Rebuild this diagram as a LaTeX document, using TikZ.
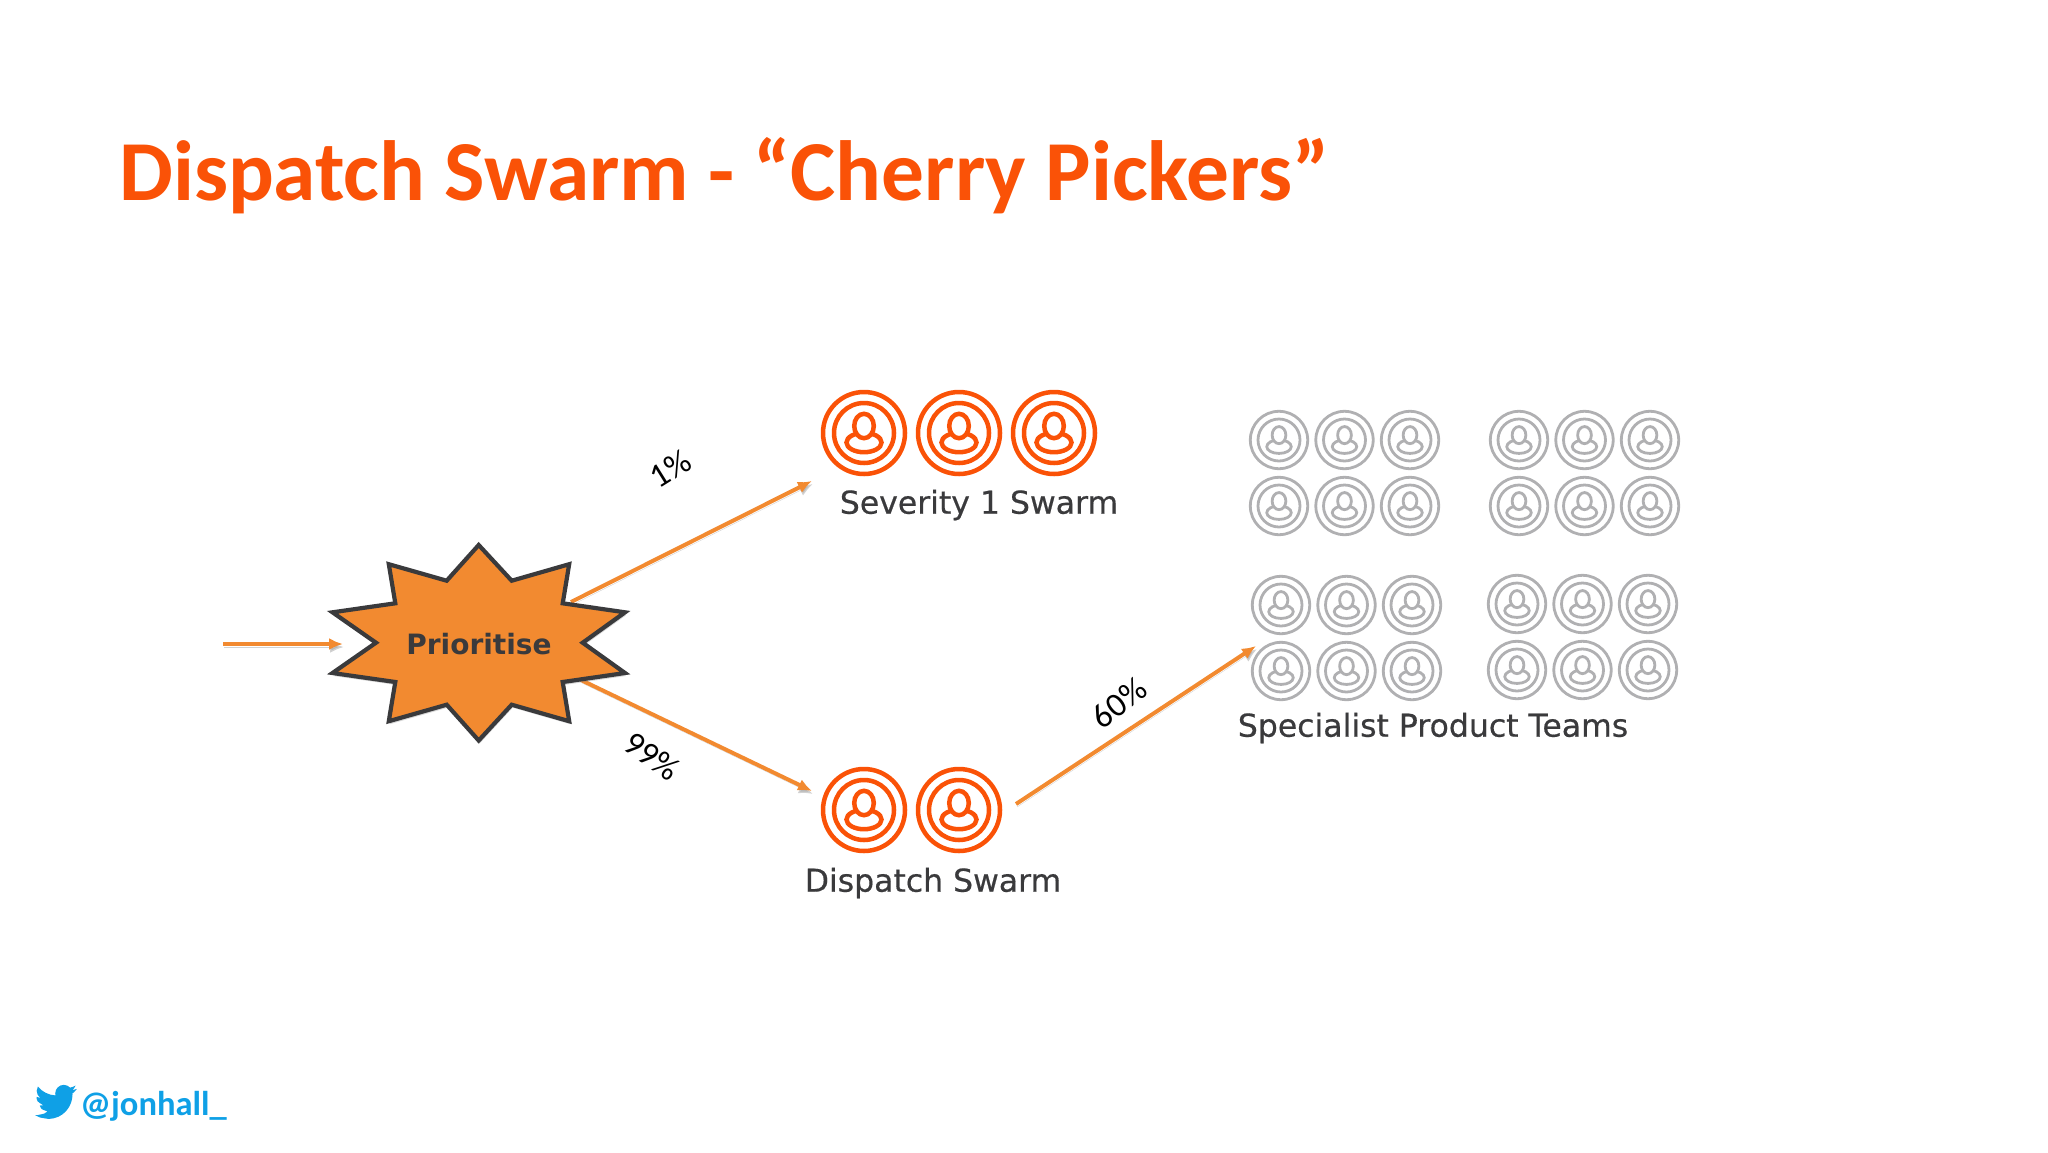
\documentclass[tikz,border=0pt]{standalone}
\usepackage{fontspec}
\setmainfont{Carlito}
\newfontfamily\labelfont[FakeBold=0.5]{DejaVu Sans}
\newfontfamily\burstfont{DejaVu Sans}
\usetikzlibrary{arrows.meta,shadows}
\definecolor{clrtitle}{HTML}{FA5207}
\definecolor{clrflow}{HTML}{F28A30}
\definecolor{clrdark}{HTML}{3A3A3C}
\definecolor{clrgrey}{HTML}{B0B0B2}
\definecolor{clrtwitter}{HTML}{0FA0E6}

\begin{document}
\begin{tikzpicture}[x=1pt,y=-1pt,
	flow/.style={clrflow,line width=4pt,-{Latex[length=14pt,width=12pt]},
		preaction={draw=black!40,opacity=0.45,transform canvas={shift={(1pt,-3pt)}}}},
	pct/.style={font=\fontsize{34}{34}\selectfont,text=black},
	caption/.style={font=\labelfont\fontsize{31.5}{32}\selectfont,text=clrdark}]

\def\teamDX{65.5}
\def\teamDY{66}
\def\hotR{1}
\def\coldR{0.7}

\newcommand{\person}[5]{%
	% x, y, scale, colour, line width
	\begin{scope}[shift={(#1,#2)},scale=#3,draw=#4,line width=#5]
		\draw (0,0) circle [radius=41];
		\draw (0,0) circle [radius=30];
		% body, then head over it
		\draw (0,9.5) ellipse [x radius=17.5,y radius=9.7];
		\draw [fill=white] (0,-7) ellipse [x radius=9.8,y radius=12.2];
	\end{scope}
}
\newcommand{\team}[2]{%
	\person{#1}{#2}{\coldR}{clrgrey}{2.8pt}
	\person{#1+\teamDX}{#2}{\coldR}{clrgrey}{2.8pt}
	\person{#1+2*\teamDX}{#2}{\coldR}{clrgrey}{2.8pt}
	\person{#1}{#2+\teamDY}{\coldR}{clrgrey}{2.8pt}
	\person{#1+\teamDX}{#2+\teamDY}{\coldR}{clrgrey}{2.8pt}
	\person{#1+2*\teamDX}{#2+\teamDY}{\coldR}{clrgrey}{2.8pt}
}

\useasboundingbox (0,0) rectangle (2048,1152);

\node [anchor=base west,inner sep=0pt,text=clrtitle,font=\bfseries\fontsize{85.4}{86}\selectfont]
	(title) at (119,200) {Dispatch Swarm - “Cherry Pickers”};

% free ends of the arrows
\coordinate (inStart) at (223,644);
\coordinate (inEnd) at (343,644);
\coordinate (topStart) at (571,602);
\coordinate (topEnd) at (812,481);
\coordinate (lowStart) at (581,680);
\coordinate (lowEnd) at (812,791);
\coordinate (teamStart) at (1016,804);
\coordinate (teamEnd) at (1256,646);

\draw [flow] (inStart) -- (inEnd);
\draw [flow] (topStart) -- (topEnd);
\draw [flow] (lowStart) -- (lowEnd);
\draw [flow] (teamStart) -- (teamEnd);

% burst
\draw [clrdark,fill=clrflow,line width=4.2pt,line join=miter,
	drop shadow={shadow xshift=1pt,shadow yshift=-3pt,opacity=0.3}]
	(478.7,545) -- (511.7,580.7) -- (569.2,564.2) -- (562.7,603.3) -- (625,612.3)
	-- (582.7,642.7) -- (625,673) -- (562.7,682) -- (569.2,721.2) -- (511.7,704.7)
	-- (478.7,740.5) -- (446.7,704.7) -- (388.8,721.2) -- (395.3,682) -- (332.5,673)
	-- (376,642.7) -- (332.5,612.3) -- (395.3,603.3) -- (388.8,564.2) -- (446.7,580.7) -- cycle;
\node [text=clrdark,font=\burstfont\bfseries\fontsize{28}{29}\selectfont] (prioritise) at (479,644) {Prioritise};

% severity 1
\person{864}{433}{\hotR}{clrtitle}{4.5pt}
\person{959}{433}{\hotR}{clrtitle}{4.5pt}
\person{1054}{433}{\hotR}{clrtitle}{4.5pt}
\node [caption] (severity) at (979,505) {Severity 1 Swarm};

% dispatch
\person{864}{810}{\hotR}{clrtitle}{4.5pt}
\person{959}{810}{\hotR}{clrtitle}{4.5pt}
\node [caption] (dispatch) at (933,883) {Dispatch Swarm};

% specialists
\team{1279}{440}
\team{1519}{440}
\team{1281}{605}
\team{1517}{604}
\node [caption] (teams) at (1433,728) {Specialist Product Teams};

\node [pct,rotate=32] (pctA) at (670,469) {1\%};
\node [pct,rotate=-35] (pctB) at (652,756) {99\%};
\node [pct,rotate=38] (pctC) at (1119,703) {60\%};

% twitter
\begin{scope}[shift={(35,1081)},scale=1.74]
	\fill [clrtwitter] (23.95,4.57) .. controls (23.1,4.95) .. (21.13,5.35)
		.. controls (22.2,4.7) .. (23.29,2.62)
		.. controls (22.34,3.18) and (21.29,3.58) .. (20.16,3.81)
		.. controls (19.3,2.87) and (18,2.2) .. (16.54,2.2)
		.. controls (13.9,2.2) and (11.62,4.4) .. (11.62,7.13)
		.. controls (11.62,7.5) and (11.68,7.9) .. (11.78,8.29)
		.. controls (7.69,8.1) and (4.07,6.13) .. (1.64,3.16)
		.. controls (1.2,3.9) .. (0.97,5.64)
		.. controls (0.97,7.35) and (1.84,8.85) .. (3.16,9.73)
		.. controls (2.3,9.7) .. (0.93,9.12) -- (0.93,9.18)
		.. controls (1,11.6) .. (4.88,14)
		.. controls (4.1,14.2) .. (2.67,14.09)
		.. controls (3.3,16.1) .. (7.27,17.51)
		.. controls (5.6,18.8) .. (1.17,19.61)
		.. controls (0.78,19.61) and (0.39,19.59) .. (0,19.54)
		.. controls (2.2,20.96) .. (7.56,21.75)
		.. controls (16.61,21.75) and (21.56,14.26) .. (21.56,7.77)
		.. controls (21.56,7.56) and (21.56,7.35) .. (21.54,7.14)
		.. controls (22.5,6.45) .. (24,4.59) -- cycle;
\end{scope}
\node [anchor=base west,inner sep=0pt,text=clrtwitter,font=\bfseries\fontsize{34.5}{35}\selectfont]
	(handle) at (80,1115) {@jonhall\_};

\end{tikzpicture}
\end{document}
